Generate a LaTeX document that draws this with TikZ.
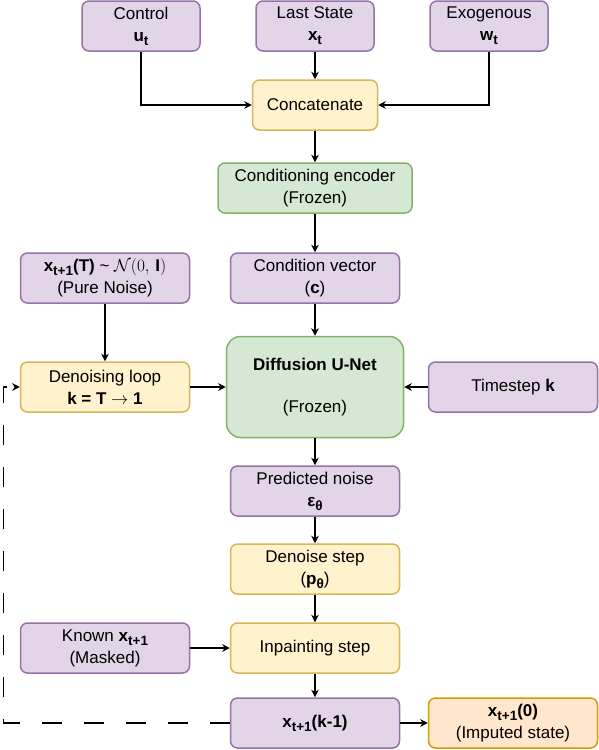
\documentclass[tikz,border=0pt]{standalone}
\usepackage{fontspec}
\setmainfont{Liberation Sans}
\usepackage{amsmath}
\usetikzlibrary{arrows.meta}
\definecolor{pf}{HTML}{E1D5E7}
\definecolor{pd}{HTML}{9673A6}
\definecolor{yf}{HTML}{FFF2CC}
\definecolor{yd}{HTML}{D6B656}
\definecolor{gf}{HTML}{D5E8D4}
\definecolor{gd}{HTML}{82B366}
\definecolor{orf}{HTML}{FFE6CC}
\definecolor{ord}{HTML}{D79B00}
\newcommand{\lowtxt}[1]{\raisebox{-0.45ex}{\fontsize{13.5}{13.5}\selectfont #1}}
\tikzset{
  blk/.style={draw,rounded corners=7pt,line width=1.5pt,inner sep=0pt,align=center,minimum width=169pt,minimum height=50pt,font=\fontsize{17}{22}\selectfont},
  inbox/.style={blk,fill=pf,draw=pd},
  opbox/.style={blk,fill=yf,draw=yd},
  netbox/.style={blk,fill=gf,draw=gd},
  outbox/.style={blk,fill=orf,draw=ord},
  flow/.style={line width=1.5pt,-{Stealth[length=7.5pt,width=7.5pt]}}
}

\begin{document}
\begin{tikzpicture}[x=1pt,y=-1pt]
            \useasboundingbox (0,0) rectangle (598,750);
            \node[inbox,minimum width=118pt] (ctrl) at (141,26) {Control\\\textbf{u\lowtxt{t}}};
            \node[inbox,minimum width=118pt] (last) at (315,26) {Last State\\\textbf{x\lowtxt{t}}};
            \node[inbox,minimum width=118pt] (exo) at (489,26) {Exogenous\\\textbf{w\lowtxt{t}}};
            \node[opbox,minimum width=125pt] (concat) at (315,105) {Concatenate};
            \node[netbox,minimum width=194pt] (enc) at (315,188) {Conditioning encoder\\(Frozen)};
            \node[inbox] (cvec) at (315,278) {Condition vector\\(\textbf{c})};
            \node[inbox] (noise) at (105,278) {\textbf{x\lowtxt{t+1}(T)} \textasciitilde{} $\mathcal{N}(0,\,\mathbf{I})$\\(Pure Noise)};
            \node[netbox,minimum width=177pt,minimum height=101pt,rounded corners=14pt] (unet) at (315,387) {\textbf{Diffusion U-Net}\\[20pt](Frozen)};
            \node[opbox] (loop) at (105,387) {Denoising loop\\\textbf{k = T $\rightarrow$ 1}};
            \node[inbox] (tstep) at (513,387) {Timestep \textbf{k}};
            \node[inbox] (pred) at (315,491) {Predicted noise\\\textbf{ε\lowtxt{θ}}};
            \node[opbox] (dstep) at (315,569) {Denoise step\\(\textbf{p\lowtxt{θ}})};
            \node[inbox] (known) at (105,648) {Known \textbf{x\lowtxt{t+1}}\\(Masked)};
            \node[opbox] (inpaint) at (315,648) {Inpainting step};
            \node[inbox] (xk) at (315,723) {\textbf{x\lowtxt{t+1}(k-1)}};
            \node[outbox] (x0) at (513,723) {\textbf{x\lowtxt{t+1}(0)}\\(Imputed state)};
            \coordinate (back) at (3.5,550);
            \draw[flow] (ctrl) |- (concat);
            \draw[flow] (last) -- (concat);
            \draw[flow] (exo) |- (concat);
            \draw[flow] (concat) -- (enc);
            \draw[flow] (enc) -- (cvec);
            \draw[flow] (cvec) -- (unet);
            \draw[flow] (noise) -- (loop);
            \draw[flow] (loop) -- (unet);
            \draw[flow] (tstep) -- (unet);
            \draw[flow] (unet) -- (pred);
            \draw[flow] (pred) -- (dstep);
            \draw[flow] (dstep) -- (inpaint);
            \draw[flow] (known) -- (inpaint);
            \draw[flow] (inpaint) -- (xk);
            \draw[flow] (xk) -- (x0);
            \draw[flow,dash pattern=on 20pt off 22pt] (xk) -| (back) |- (loop);
        \end{tikzpicture}
\end{document}
